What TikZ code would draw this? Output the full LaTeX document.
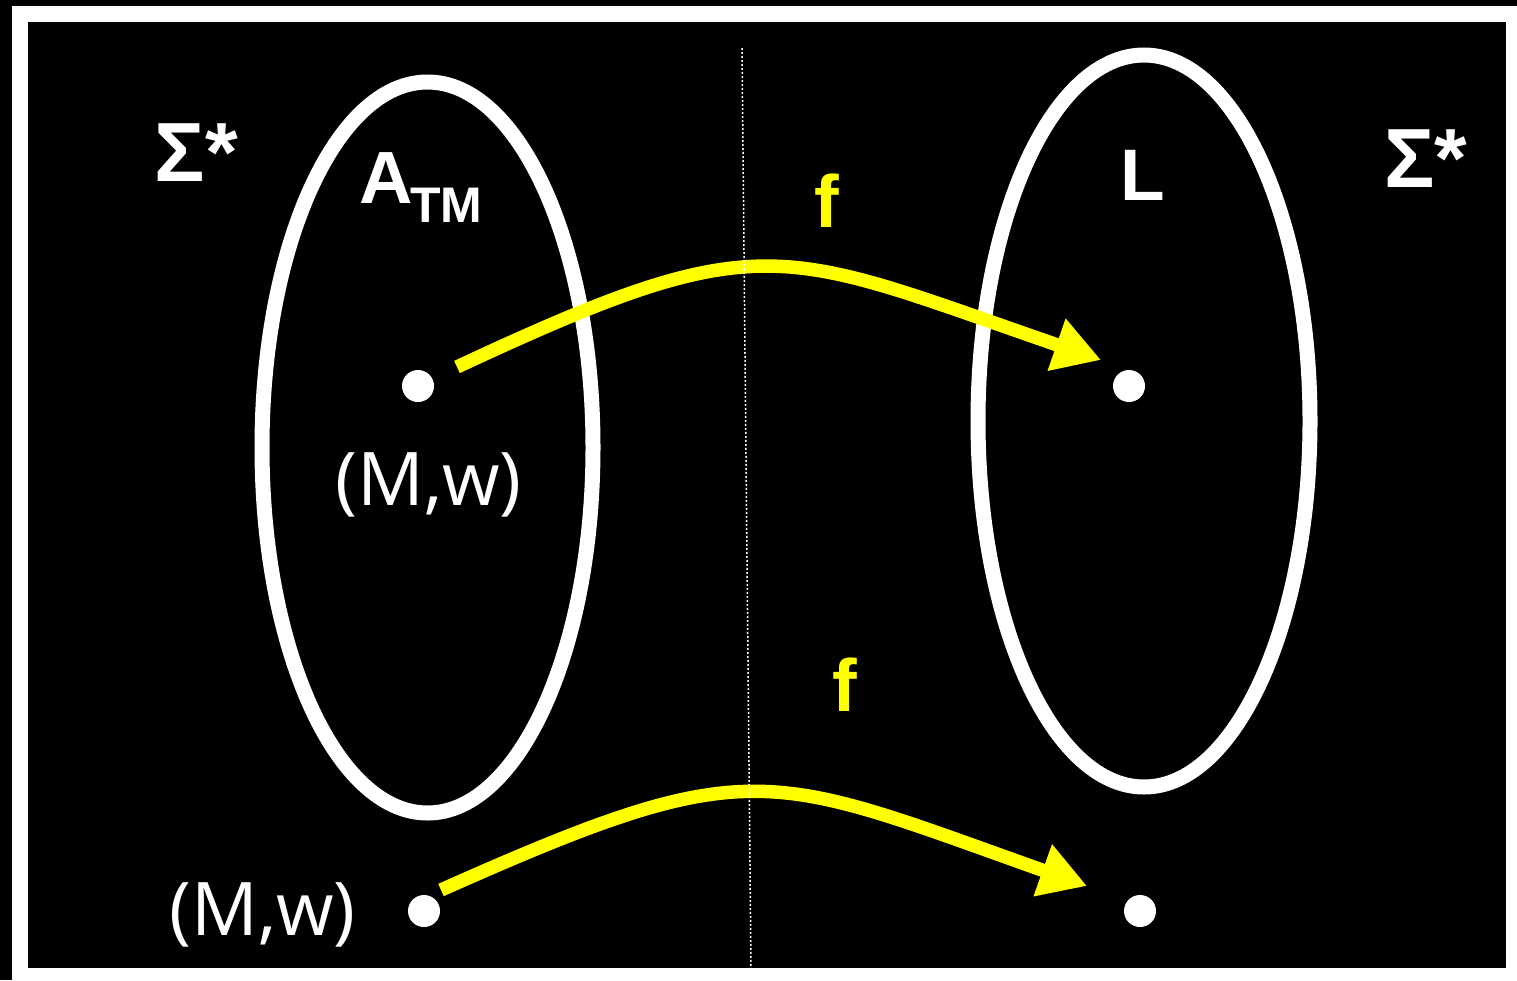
\documentclass[tikz,border=0pt]{standalone}
\usepackage{fontspec}
\setmainfont{Liberation Sans}
\newfontfamily\opensans{Open Sans}
\usetikzlibrary{arrows.meta}
\definecolor{fyellow}{RGB}{255,255,0}
\tikzset{
  lbl/.style={text=white, inner sep=0pt, outer sep=0pt, anchor=base, font=\bfseries},
  setring/.style={draw=white, line width=15pt},
  dotpt/.style={circle, fill=white, inner sep=0pt, minimum size=32pt},
  fmap/.style={draw=fyellow, line width=13.5pt, -{Triangle[length=47pt,width=52pt]}},
  flbl/.style={text=fyellow, inner sep=0pt, anchor=base, font=\fontsize{74}{80}\selectfont\bfseries},
  mw/.style={text=white, inner sep=0pt, anchor=base, font=\opensans\fontsize{74}{80}\selectfont},
  divider/.style={draw=white, line width=1.5pt, dash pattern=on 2pt off 2pt}
}
\begin{document}
\begin{tikzpicture}[x=1pt, y=-1pt]
\useasboundingbox (0,0) rectangle (1517,980);
% frame
\fill[black] (0,0) rectangle (1517,980);
\fill[white] (12,6) rectangle (1517,980);
\fill[black] (28,22) rectangle (1506,968);
% sets
\coordinate (cA) at (427.5,447.5);
\coordinate (cL) at (1144,421);
\draw[setring] (cA) ellipse [x radius=165.5, y radius=365.5];
\draw[setring] (cL) ellipse [x radius=166, y radius=366];
% labels
\node[lbl, font=\fontsize{84}{90}\selectfont\bfseries] (sigL) at (196.5,181) {Σ*};
\node[lbl, font=\fontsize{84}{90}\selectfont\bfseries] (sigR) at (1426,187) {Σ*};
\node[lbl, font=\fontsize{74}{80}\selectfont\bfseries] (atmA) at (386.5,203) {A};
\node[lbl, font=\fontsize{50}{55}\selectfont\bfseries] (atmTM) at (446.5,222) {TM};
\node[lbl, font=\fontsize{73}{80}\selectfont\bfseries] (Lname) at (1143,200) {L};
% points
\node[dotpt] (p1) at (418,386) {};
\node[dotpt] (q1) at (1129,386) {};
\node[dotpt] (p2) at (424,911) {};
\node[dotpt] (q2) at (1140,911) {};
\node[mw] (mw1) at (428.5,505) {(M,w)};
\node[mw] (mw2) at (262.5,935) {(M,w)};
% mappings
\coordinate (s1) at (457,367);
\coordinate (t1) at (1101,360);
\coordinate (s2) at (441,890);
\coordinate (t2) at (1087,886);
\draw[fmap] (s1) .. controls (765,223) and (779,249) .. (t1);
\draw[fmap] (s2) .. controls (753,751) and (766,772) .. (t2);
\node[flbl] (f1) at (827,227) {f};
\node[flbl] (f2) at (845,711) {f};
% divider
\coordinate (dtop) at (742,48);
\coordinate (dbot) at (751,968);
\draw[divider] (dtop) -- (dbot);
\end{tikzpicture}
\end{document}
